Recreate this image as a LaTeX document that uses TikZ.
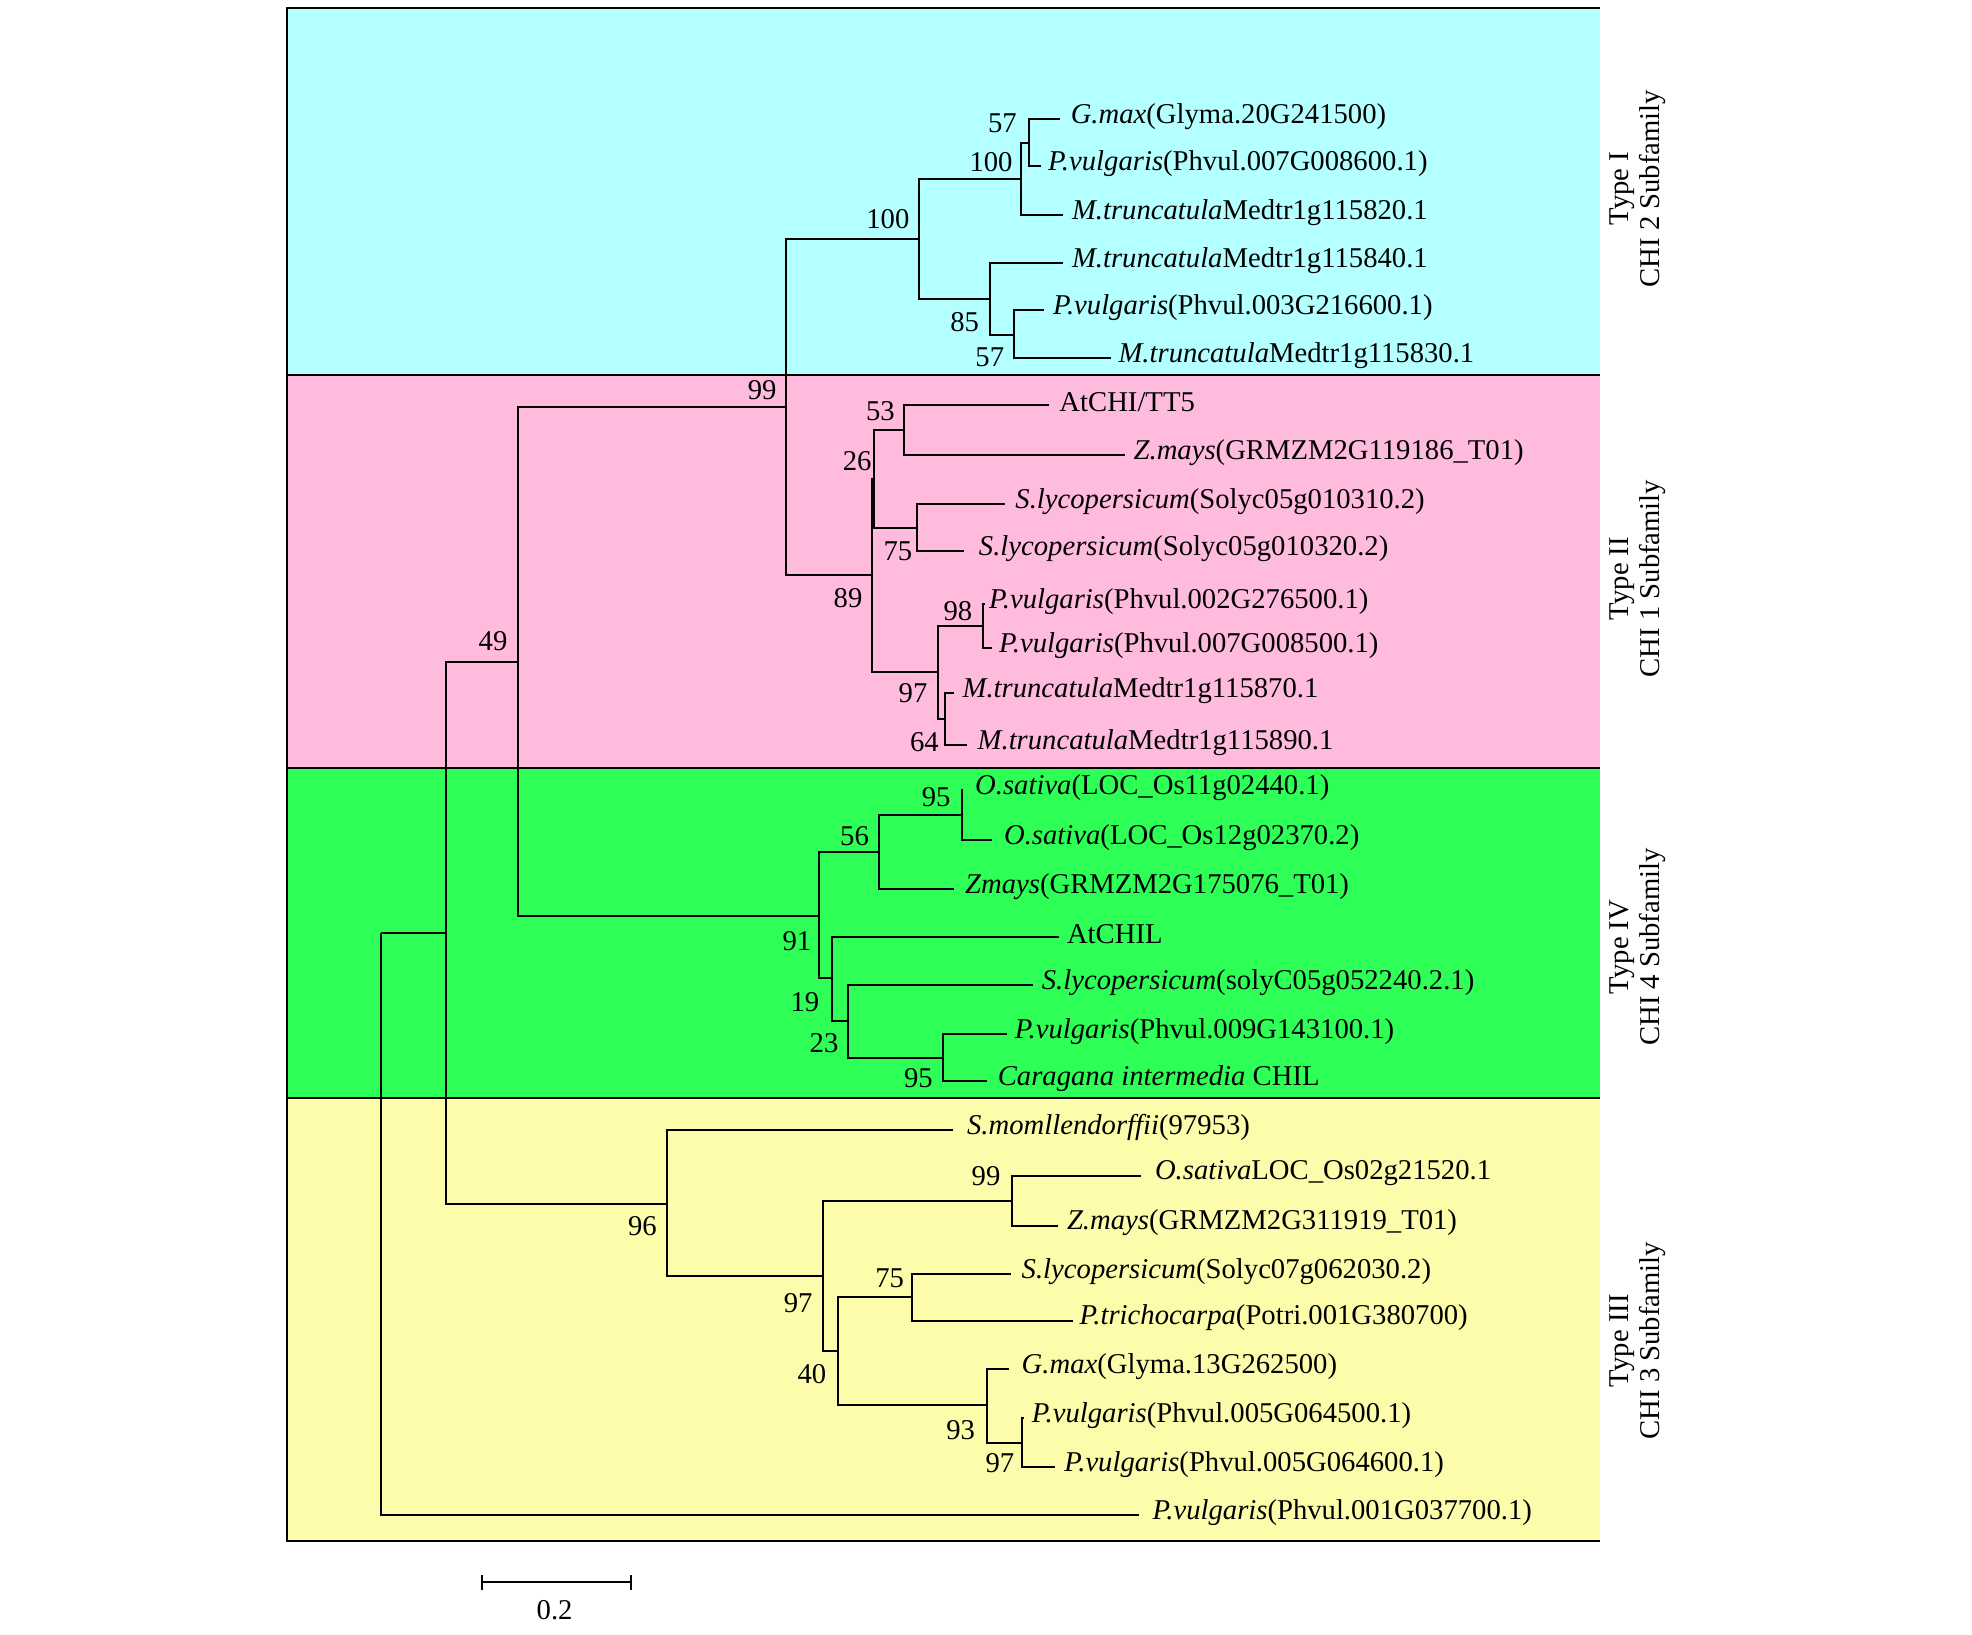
\documentclass[tikz,border=0pt]{standalone}
\usepackage{fontspec}
\setmainfont{Liberation Serif}
\definecolor{bandI}{RGB}{180,255,255}
\definecolor{bandII}{RGB}{255,187,222}
\definecolor{bandIV}{RGB}{46,255,86}
\definecolor{bandIII}{RGB}{252,252,170}
\tikzset{
  br/.style={line width=0.8pt},
  frame/.style={line width=0.8pt},
  leaf/.style={anchor=west, inner sep=0pt, yshift=1pt, font=\fontsize{11.4}{13}\selectfont},
  bs/.style={inner sep=0pt, font=\fontsize{11.4}{13}\selectfont},
  grp/.style={rotate=90, align=center, inner sep=0pt, font=\fontsize{11.4}{12.5}\selectfont},
}
\begin{document}
\begin{tikzpicture}[x=0.5pt,y=-0.5pt]
\useasboundingbox (0,0) rectangle (1568,1300);
\fill[white] (0,0) rectangle (1568,1300);
% bands
\fill[bandI] (228,6) rectangle (1272,298);
\fill[bandII] (228,298) rectangle (1272,610.5);
\fill[bandIV] (228,610.5) rectangle (1272,873);
\fill[bandIII] (228,873) rectangle (1272,1225);
\draw[frame] (1272,6) -- (228,6) -- (228,1225) -- (1272,1225);
\draw[frame] (228,298) -- (1272,298);
\draw[frame] (228,610.5) -- (1272,610.5);
\draw[frame] (228,873) -- (1272,873);

% group labels
\node[grp] (gI) at (1302,150) {Type I\\CHI 2 Subfamily};
\node[grp] (gII) at (1302,460) {Type II\\CHI 1 Subfamily};
\node[grp] (gIV) at (1302,753) {Type IV\\CHI 4 Subfamily};
\node[grp] (gIII) at (1302,1066) {Type III\\CHI 3 Subfamily};

% leaf tips and labels
\coordinate (t1) at (843,95);   \node[leaf] (l1) at (851,95) {\textit{G.max}(Glyma.20G241500)};
\coordinate (t2) at (828,132);  \node[leaf] (l2) at (833,132) {\textit{P.vulgaris}(Phvul.007G008600.1)};
\coordinate (t3) at (845,171);  \node[leaf] (l3) at (852,171) {\textit{M.truncatula}Medtr1g115820.1};
\coordinate (t4) at (845,209);  \node[leaf] (l4) at (852,209) {\textit{M.truncatula}Medtr1g115840.1};
\coordinate (t5) at (830,246.5); \node[leaf] (l5) at (837,246.5) {\textit{P.vulgaris}(Phvul.003G216600.1)};
\coordinate (t6) at (883,285);  \node[leaf] (l6) at (889,285) {\textit{M.truncatula}Medtr1g115830.1};
\coordinate (t7) at (834,322);  \node[leaf] (l7) at (842,322) {AtCHI/TT5};
\coordinate (t8) at (894.5,362); \node[leaf] (l8) at (901,362) {\textit{Z.mays}(GRMZM2G119186\_T01)};
\coordinate (t9) at (799,401);  \node[leaf] (l9) at (807,401) {\textit{S.lycopersicum}(Solyc05g010310.2)};
\coordinate (t10) at (766.5,438); \node[leaf] (l10) at (778,438) {\textit{S.lycopersicum}(Solyc05g010320.2)};
\coordinate (t11) at (783,480); \node[leaf] (l11) at (786,480) {\textit{P.vulgaris}(Phvul.002G276500.1)};
\coordinate (t12) at (789,515.5); \node[leaf] (l12) at (794,515.5) {\textit{P.vulgaris}(Phvul.007G008500.1)};
\coordinate (t13) at (758.5,551); \node[leaf] (l13) at (765,551) {\textit{M.truncatula}Medtr1g115870.1};
\coordinate (t14) at (769,592.4); \node[leaf] (l14) at (777,592.4) {\textit{M.truncatula}Medtr1g115890.1};
\coordinate (t15) at (766,628); \node[leaf] (l15) at (775,628) {\textit{O.sativa}(LOC\_Os11g02440.1)};
\coordinate (t16) at (789,668); \node[leaf] (l16) at (798,668) {\textit{O.sativa}(LOC\_Os12g02370.2)};
\coordinate (t17) at (758.5,706.6); \node[leaf] (l17) at (767,706.6) {\textit{Zmays}(GRMZM2G175076\_T01)};
\coordinate (t18) at (842,744.8); \node[leaf] (l18) at (848,744.8) {AtCHIL};
\coordinate (t19) at (821.4,783.2); \node[leaf] (l19) at (828,783.2) {\textit{S.lycopersicum}(solyC05g052240.2.1)};
\coordinate (t20) at (801,822.2); \node[leaf] (l20) at (806.5,822.2) {\textit{P.vulgaris}(Phvul.009G143100.1)};
\coordinate (t21) at (785,859.5); \node[leaf] (l21) at (793,859.5) {\textit{Caragana intermedia} CHIL};
\coordinate (t22) at (758,898.5); \node[leaf] (l22) at (768.6,898.5) {\textit{S.momllendorffii}(97953)};
\coordinate (t23) at (907.4,935); \node[leaf] (l23) at (918,935) {\textit{O.sativa}LOC\_Os02g21520.1};
\coordinate (t24) at (841,974.5); \node[leaf] (l24) at (848,974.5) {\textit{Z.mays}(GRMZM2G311919\_T01)};
\coordinate (t25) at (803.8,1013); \node[leaf] (l25) at (812,1013) {\textit{S.lycopersicum}(Solyc07g062030.2)};
\coordinate (t26) at (853,1050); \node[leaf] (l26) at (858,1050) {\textit{P.trichocarpa}(Potri.001G380700)};
\coordinate (t27) at (802.3,1088.8); \node[leaf] (l27) at (812,1088.8) {\textit{G.max}(Glyma.13G262500)};
\coordinate (t28) at (814,1127.7); \node[leaf] (l28) at (820,1127.7) {\textit{P.vulgaris}(Phvul.005G064500.1)};
\coordinate (t29) at (838.5,1166.2); \node[leaf] (l29) at (846,1166.2) {\textit{P.vulgaris}(Phvul.005G064600.1)};
\coordinate (t30) at (906,1204.6); \node[leaf] (l30) at (916,1204.6) {\textit{P.vulgaris}(Phvul.001G037700.1)};

% internal nodes
\coordinate (a57) at (818,113.5);
\coordinate (a100s) at (812,142.5);
\coordinate (a57b) at (806,266);
\coordinate (a85) at (787,237.5);
\coordinate (a100) at (731,190);
\coordinate (a99) at (625,323.7);
\coordinate (b53) at (719,342);
\coordinate (b75) at (729.5,419.5);
\coordinate (b26) at (695,381);
\coordinate (b98) at (781.7,497.6);
\coordinate (b64) at (751.7,571.5);
\coordinate (b97) at (745.6,534);
\coordinate (b89) at (693.6,457.5);
\coordinate (c95) at (764.6,648);
\coordinate (c56) at (699,677.5);
\coordinate (c95b) at (749.7,841);
\coordinate (c23) at (674.6,811.6);
\coordinate (c19) at (661.2,778);
\coordinate (c91) at (651,728);
\coordinate (a49) at (412,526);
\coordinate (d99) at (804.6,954.8);
\coordinate (d75) at (725.2,1031.5);
\coordinate (d97s) at (812.9,1147);
\coordinate (d93) at (784.5,1117.5);
\coordinate (d40) at (666.5,1074.5);
\coordinate (d97) at (654,1014.5);
\coordinate (d96) at (530,957);
\coordinate (r355) at (355,741.5);
\coordinate (root) at (303,741.5);

% branches
\foreach \p/\c in {a57/t1,a57/t2,a100s/a57,a100s/t3,a57b/t5,a57b/t6,a85/t4,a85/a57b,
  a100/a100s,a100/a85,a99/a100,a99/b89,b53/t7,b53/t8,b75/t9,b75/t10,b26/b53,b26/b75,
  b98/t11,b98/t12,b64/t13,b64/t14,b97/b98,b97/b64,b89/b26,b89/b97,
  c95/t15,c95/t16,c56/c95,c56/t17,c95b/t20,c95b/t21,c23/t19,c23/c95b,c19/t18,c19/c23,
  c91/c56,c91/c19,a49/a99,a49/c91,
  d99/t23,d99/t24,d75/t25,d75/t26,d97s/t28,d97s/t29,d93/t27,d93/d97s,d40/d75,d40/d93,
  d97/d99,d97/d40,d96/t22,d96/d97,r355/a49,r355/d96,root/r355,root/t30}
  \draw[br] (\p) |- (\c);

% bootstrap values
\node[bs] (s1) at (797,98) {57};
\node[bs] (s2) at (788,129) {100};
\node[bs] (s3) at (706,174) {100};
\node[bs] (s4) at (767,256) {85};
\node[bs] (s5) at (787,284) {57};
\node[bs] (s6) at (606,310) {99};
\node[bs] (s7) at (700,327) {53};
\node[bs] (s8) at (681.5,367) {26};
\node[bs] (s9) at (714,438.6) {75};
\node[bs] (s10) at (674.3,475.5) {89};
\node[bs] (s11) at (761.7,486) {98};
\node[bs] (s12) at (726,551) {97};
\node[bs] (s13) at (735,590) {64};
\node[bs] (s14) at (392,510) {49};
\node[bs] (s15) at (744.4,634) {95};
\node[bs] (s16) at (679.5,664.7) {56};
\node[bs] (s17) at (633.7,748.7) {91};
\node[bs] (s18) at (640,797) {19};
\node[bs] (s19) at (655.2,829.5) {23};
\node[bs] (s20) at (730.2,857.4) {95};
\node[bs] (s21) at (510.8,975.3) {96};
\node[bs] (s22) at (784,935) {99};
\node[bs] (s23) at (707.4,1016) {75};
\node[bs] (s24) at (634.7,1035.8) {97};
\node[bs] (s25) at (645.6,1092.7) {40};
\node[bs] (s26) at (763.8,1137) {93};
\node[bs] (s27) at (795,1163.5) {97};

% scale bar
\coordinate (sb1) at (383,1258);
\coordinate (sb2) at (502,1258);
\draw[br] (sb1) -- (sb2);
\draw[br] ([yshift=-3pt]sb1) -- ([yshift=3pt]sb1);
\draw[br] ([yshift=-3pt]sb2) -- ([yshift=3pt]sb2);
\node[bs] (sbl) at (441,1280) {0.2};
\end{tikzpicture}
\end{document}
